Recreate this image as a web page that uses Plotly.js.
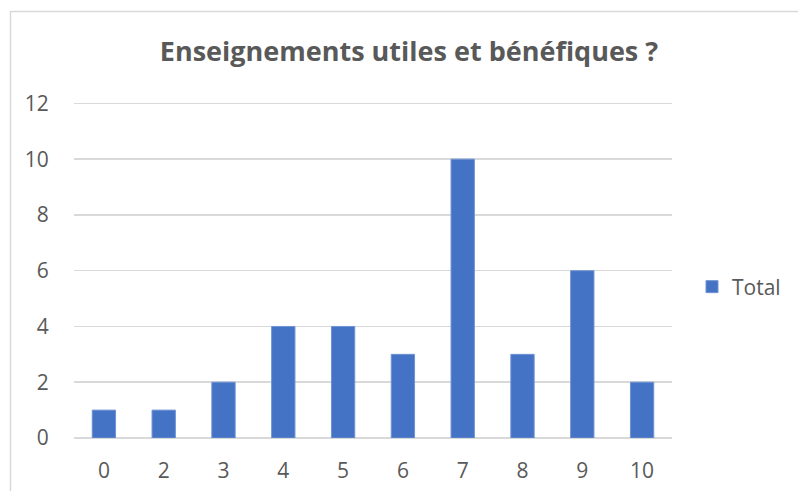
<!DOCTYPE html>
<html>
<head>
<meta charset="utf-8">
<script src="https://cdn.plot.ly/plotly-3.0.1.min.js"></script>
<style>html,body{margin:0;padding:0;background:#fff;}#chart{width:798px;height:491px;}</style>
</head>
<body>
<div id="chart"></div>
<script>
const categories = ["0", "2", "3", "4", "5", "6", "7", "8", "9", "10"];
const totals = [1, 1, 2, 4, 4, 3, 10, 3, 6, 2];
const yTicks = [0, 2, 4, 6, 8, 10, 12];
const chartTitle = "Enseignements utiles et bénéfiques ?";
const seriesName = "Total";

const font = "'Open Sans', Lato, 'DejaVu Sans', sans-serif";
const gray = "#595959";

Plotly.newPlot("chart", [{
  type: "bar",
  x: categories,
  y: totals,
  name: seriesName,
  marker: {color: "#4472C4", line: {color: "#6f93d3", width: 1}},
  showlegend: true
}], {
  width: 798, height: 491,
  margin: {l: 74, r: 126, t: 102, b: 53},
  paper_bgcolor: "#fff", plot_bgcolor: "#fff",
  bargap: 0.61,
  font: {family: font, color: gray, size: 21},
  title: {text: "<b>" + chartTitle + "</b>", x: 409/798, xref: "container", xanchor: "center",
          y: 1 - 52/491, yref: "container", yanchor: "middle",
          font: {family: font, size: 27, color: gray}},
  xaxis: {type: "category", showgrid: false, zeroline: false, showline: false,
          ticks: "outside", ticklen: 14, tickcolor: "rgba(0,0,0,0)",
          tickfont: {size: 21, color: gray}},
  yaxis: {range: [0, 12.05], tickvals: yTicks, showgrid: true, gridcolor: "#d9d9d9", gridwidth: 1.5,
          zeroline: true, zerolinecolor: "#d9d9d9", zerolinewidth: 1.5, showline: false,
          ticks: "outside", ticklen: 20, tickcolor: "rgba(0,0,0,0)",
          tickfont: {size: 21, color: gray}},
  legend: {x: (692-74)/598, xanchor: "left", y: (438-287)/336, yanchor: "middle",
           font: {size: 21, color: gray}, bgcolor: "rgba(0,0,0,0)", itemwidth: 30},
  shapes: [{type: "rect", xref: "paper", yref: "paper",
            x0: (10.5-74)/598, x1: (805-74)/598, y0: (438-500)/336, y1: (438-11.5)/336,
            line: {color: "#d9d9d9", width: 1.5}, fillcolor: "rgba(0,0,0,0)", layer: "below"}]
}, {displayModeBar: false, staticPlot: true});
</script>
</body>
</html>
